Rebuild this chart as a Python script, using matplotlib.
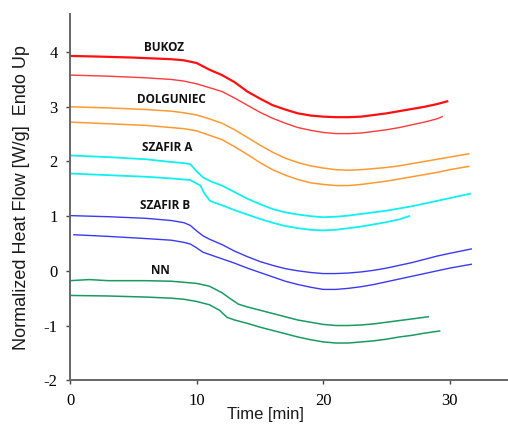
import numpy as np
import matplotlib
matplotlib.use('Agg')
import matplotlib.pyplot as plt

plt.rcParams['axes.unicode_minus'] = False

# curve readings: time [min] and heat flow [W/g]
bukoz1_t = [0, 2, 5, 8, 9, 10, 11, 12, 13, 14, 15, 16, 17, 18, 19, 20, 21, 22, 23, 24, 25, 26, 27, 28, 29, 29.8]
bukoz1_v = [3.93, 3.92, 3.90, 3.87, 3.85, 3.80, 3.68, 3.58, 3.45, 3.28, 3.15, 3.03, 2.95, 2.88, 2.84, 2.82, 2.81, 2.81,
            2.82, 2.85, 2.88, 2.92, 2.96, 3.00, 3.05, 3.10]
bukoz2_t = [0, 3, 6, 8, 9, 10, 11, 12, 13, 14, 15, 16, 17, 18, 19, 20, 21, 22, 23, 24, 25, 26, 27, 28, 29, 29.4]
bukoz2_v = [3.58, 3.56, 3.53, 3.50, 3.47, 3.42, 3.35, 3.28, 3.16, 3.03, 2.90, 2.79, 2.70, 2.62, 2.57, 2.53, 2.51, 2.51,
            2.52, 2.55, 2.58, 2.62, 2.67, 2.72, 2.78, 2.82]

dolg1_t = [0, 3, 6, 8, 9, 10, 11, 12, 13, 14, 15, 16, 17, 18, 19, 20, 21, 22, 23, 24, 25, 26, 27, 28, 29, 30, 31.5]
dolg1_v = [3.00, 2.98, 2.95, 2.92, 2.89, 2.85, 2.78, 2.70, 2.58, 2.44, 2.30, 2.17, 2.06, 1.98, 1.92, 1.88, 1.85, 1.84,
           1.85, 1.87, 1.89, 1.92, 1.96, 2.00, 2.04, 2.08, 2.14]
dolg2_t = [0, 3, 6, 8, 9, 10, 11, 12, 13, 14, 15, 16, 17, 18, 19, 20, 21, 22, 23, 24, 25, 26, 27, 28, 29, 30, 31.5]
dolg2_v = [2.72, 2.69, 2.66, 2.62, 2.60, 2.56, 2.48, 2.40, 2.27, 2.13, 1.98, 1.85, 1.75, 1.67, 1.61, 1.58, 1.56, 1.56,
           1.58, 1.61, 1.64, 1.68, 1.72, 1.76, 1.80, 1.85, 1.91]

szfa1_t = [0, 3, 6, 8, 9, 9.5, 10, 10.5, 11, 11.3, 12, 13, 14, 15, 16, 17, 18, 19, 20, 21, 22, 23, 24, 25, 26, 27, 28,
           29, 30, 31.6]
szfa1_v = [2.11, 2.08, 2.04, 1.99, 1.97, 1.95, 1.82, 1.71, 1.65, 1.62, 1.56, 1.44, 1.32, 1.22, 1.13, 1.07, 1.03, 1.00,
           0.98, 0.99, 1.01, 1.04, 1.07, 1.10, 1.14, 1.18, 1.23, 1.28, 1.33, 1.41]
szfa2_t = [0, 3, 6, 8, 9.5, 10.3, 10.6, 11.05, 11.5, 12, 13, 14, 15, 16, 17, 18, 19, 20, 21, 22, 23, 24, 25, 26, 26.8]
szfa2_v = [1.78, 1.75, 1.72, 1.69, 1.66, 1.56, 1.42, 1.28, 1.24, 1.20, 1.11, 1.03, 0.95, 0.88, 0.82, 0.78, 0.75, 0.74,
           0.75, 0.78, 0.81, 0.85, 0.89, 0.94, 1.00]

szfb1_t = [0, 3, 6, 8, 9, 9.5, 10, 10.5, 11, 12, 13, 14, 15, 16, 17, 18, 19, 20, 21, 22, 23, 24, 25, 26, 27, 28, 29,
           30, 31.7]
szfb1_v = [1.01, 0.99, 0.96, 0.92, 0.88, 0.83, 0.73, 0.64, 0.58, 0.48, 0.36, 0.26, 0.17, 0.10, 0.04, 0.00, -0.03,
           -0.05, -0.05, -0.04, -0.02, 0.01, 0.05, 0.10, 0.15, 0.21, 0.27, 0.32, 0.40]
szfb2_t = [0.3, 3, 6, 8, 9, 9.5, 10, 10.5, 11, 12, 13, 14, 15, 16, 17, 18, 19, 20, 21, 22, 23, 24, 25, 26, 27, 28, 29,
           30, 31.7]
szfb2_v = [0.66, 0.63, 0.59, 0.56, 0.52, 0.49, 0.42, 0.34, 0.30, 0.22, 0.14, 0.05, -0.03, -0.11, -0.19, -0.25, -0.30,
           -0.34, -0.34, -0.32, -0.29, -0.25, -0.20, -0.15, -0.10, -0.05, 0.00, 0.05, 0.12]

nn1_t = [0, 1.5, 3, 6, 8, 9, 10, 11, 12, 12.6, 13.3, 14, 15, 16, 17, 18, 19, 20, 21, 22, 23, 24, 25, 26, 27, 28.3]
nn1_v = [-0.18, -0.16, -0.18, -0.18, -0.19, -0.21, -0.23, -0.28, -0.40, -0.50, -0.61, -0.66, -0.72, -0.78, -0.84,
         -0.90, -0.94, -0.98, -1.00, -1.00, -0.99, -0.97, -0.94, -0.91, -0.88, -0.84]
nn2_t = [0, 3, 6, 8, 9, 10, 11, 11.8, 12.4, 13, 14, 15, 16, 17, 18, 19, 20, 21, 22, 23, 24, 25, 26, 27, 28, 29.2]
nn2_v = [-0.45, -0.46, -0.48, -0.50, -0.52, -0.56, -0.62, -0.72, -0.85, -0.90, -0.96, -1.03, -1.09, -1.15, -1.21,
         -1.26, -1.30, -1.32, -1.32, -1.30, -1.28, -1.25, -1.21, -1.18, -1.14, -1.10]

labels = ['BUKOZ', 'DOLGUNIEC', 'SZAFIR A', 'SZAFIR B', 'NN']
label_t = [7.4, 8.0, 7.7, 7.5, 7.1]
label_v = [4.09, 3.14, 2.26, 1.19, 0.0]

fig = plt.figure(figsize=(5.08, 4.36), dpi=100)
ax = fig.add_axes([0.138, 0.128, 0.862, 0.839])

ax.plot(bukoz1_t, bukoz1_v, color='#ff1010', lw=1.6)
ax.plot(bukoz2_t, bukoz2_v, color='#ff3a3a', lw=1.0)
ax.plot(dolg1_t, dolg1_v, color='#ff9a30', lw=1.1)
ax.plot(dolg2_t, dolg2_v, color='#ff9a30', lw=1.1)
ax.plot(szfa1_t, szfa1_v, color='#10f0f0', lw=1.3)
ax.plot(szfa2_t, szfa2_v, color='#10f0f0', lw=1.3)
ax.plot(szfb1_t, szfb1_v, color='#3a3af5', lw=1.0)
ax.plot(szfb2_t, szfb2_v, color='#3a3af5', lw=1.0)
ax.plot(nn1_t, nn1_v, color='#1a9a62', lw=1.1)
ax.plot(nn2_t, nn2_v, color='#1a9a62', lw=1.1)

for lab, t, v in zip(labels, label_t, label_v):
    ax.text(t, v, lab, ha='center', va='center', fontsize=8.5, fontweight='bold',
            family='Open Sans', color='#111111')

ax.set_xlim(0, 34.6)
ax.set_ylim(-2, 4.69)
ax.set_xticks([0, 10, 20, 30])
ax.set_yticks([-2, -1, 0, 1, 2, 3, 4])
for s in ['top', 'right']:
    ax.spines[s].set_visible(False)
for s in ['left', 'bottom']:
    ax.spines[s].set_color('#666666')
    ax.spines[s].set_linewidth(1.4)
ax.tick_params(direction='out', length=3, width=1, color='#444444', labelsize=12)
ax.tick_params(axis='y', pad=6)
ax.tick_params(axis='x', pad=6)
for lbl in ax.get_xticklabels() + ax.get_yticklabels():
    lbl.set_fontfamily('Liberation Serif')

ax.set_xlabel('Time [min]', fontsize=12, family='Liberation Sans', color='#1a1a1a')
ax.set_ylabel('Normalized Heat Flow [W/g]  Endo Up', fontsize=13, family='Liberation Sans', color='#1a1a1a')
ax.xaxis.set_label_coords(0.447, -0.074)
ax.yaxis.set_label_coords(-0.092, 0.5)

fig.savefig('out.png', dpi=100)
